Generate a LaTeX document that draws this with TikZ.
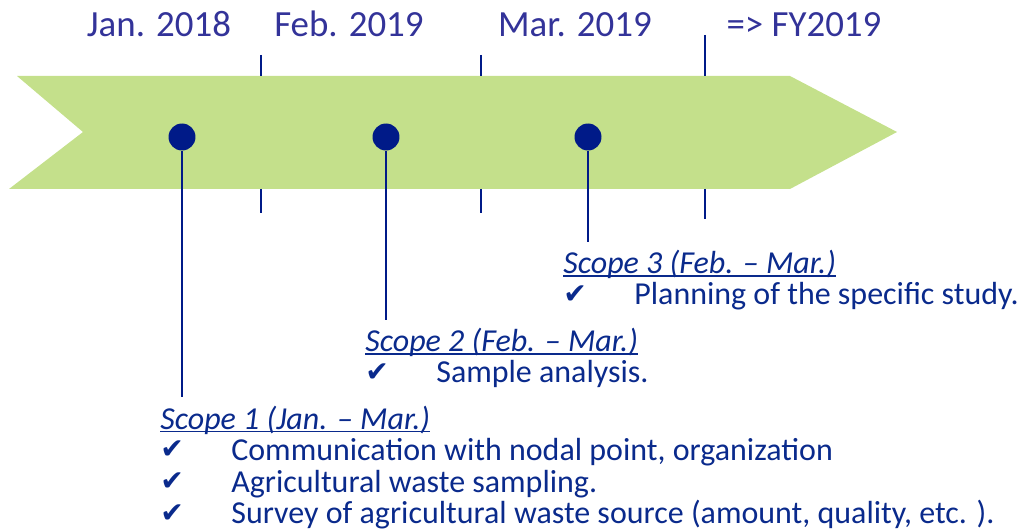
\documentclass[tikz,border=0pt]{standalone}
\usepackage{fontspec}
\setmainfont{Carlito}
\newfontfamily\checkfont{DejaVu Sans}

\definecolor{datecol}{HTML}{333399}
\definecolor{navy}{HTML}{001A88}
\definecolor{textnavy}{HTML}{0A2A8C}
\definecolor{bandgreen}{HTML}{C4E08B}

% check mark followed by the item indent
\newcommand{\chk}{\makebox[1.42cm][l]{\raisebox{1pt}{\checkfont\fontsize{16}{16}\selectfont ✔}}}
% italic heading with a close underline
\newcommand{\scopehead}[1]{\setbox0\hbox{\textit{#1}}\rlap{\rule[-1.9pt]{\wd0}{0.8pt}}\box0}
% fixed line pitch
\newcommand{\tightlines}{\lineskiplimit=-20pt\relax\lineskip=0pt\relax}

\begin{document}
\begin{tikzpicture}[x=0.02cm, y=-0.02cm,
    date/.style={text=datecol, font=\fontsize{21}{21}\selectfont, inner sep=0, anchor=base},
    dot/.style={circle, fill=navy, minimum size=0.54cm, inner sep=0},
    stem/.style={navy, line width=1.7pt, shorten >=0.16cm},
    tickline/.style={navy, line width=1.3pt},
    scopebox/.style={text=textnavy, align=left, anchor=base west, inner sep=0,
        font=\fontsize{18.2}{18}\selectfont\tightlines}]

    \useasboundingbox (0,0) rectangle (1019,530);

    % TIMELINE BAND
    \fill[bandgreen] (17,76) -- (790,76) -- (897,132) -- (790,189)
        -- (9,189) -- (83,132) -- cycle;

    % TICK MARKS
    \coordinate (t1top) at (261,55);  \coordinate (t1up) at (261,76);
    \coordinate (t1low) at (261,189); \coordinate (t1bot) at (261,213);
    \coordinate (t2top) at (481,55);  \coordinate (t2up) at (481,76);
    \coordinate (t2low) at (481,189); \coordinate (t2bot) at (481,213);
    \coordinate (t3top) at (705,35);  \coordinate (t3up) at (705,76);
    \coordinate (t3low) at (705,189); \coordinate (t3bot) at (705,219);

    \draw[tickline] (t1top) -- (t1up) (t1low) -- (t1bot);
    \draw[tickline] (t2top) -- (t2up) (t2low) -- (t2bot);
    \draw[tickline] (t3top) -- (t3up) (t3low) -- (t3bot);

    % DATE LABELS
    \node[date] (jan) at (159,37) {Jan. 2018};
    \node[date] (feb) at (349,37) {Feb. 2019};
    \node[date] (mar) at (575,37) {Mar. 2019};
    \node[date] (fy)  at (804,37) {=> FY2019};

    % MILESTONE DOTS
    \node[dot] (d1) at (182,137) {};
    \node[dot] (d2) at (386,137) {};
    \node[dot] (d3) at (588,137) {};

    % SCOPE DESCRIPTIONS (placed by the baseline of their last line)
    \node[scopebox] (s1) at (160,524)
        {\scopehead{Scope 1 (Jan. – Mar.)}\\
         \chk Communication with nodal point, organization\\
         \chk Agricultural waste sampling.\\
         \chk Survey of agricultural waste source (amount, quality, etc. ).};

    \node[scopebox] (s2) at (365,383)
        {\scopehead{Scope 2 (Feb. – Mar.)}\\
         \chk Sample analysis.};

    \node[scopebox] (s3) at (563,305)
        {\scopehead{Scope 3 (Feb. – Mar.)}\\
         \chk Planning of the specific study.};

    % STEMS
    \draw[stem] (d1) -- (d1 |- s1.north);
    \draw[stem] (d2) -- (d2 |- s2.north);
    \draw[stem] (d3) -- (d3 |- s3.north);

\end{tikzpicture}
\end{document}
